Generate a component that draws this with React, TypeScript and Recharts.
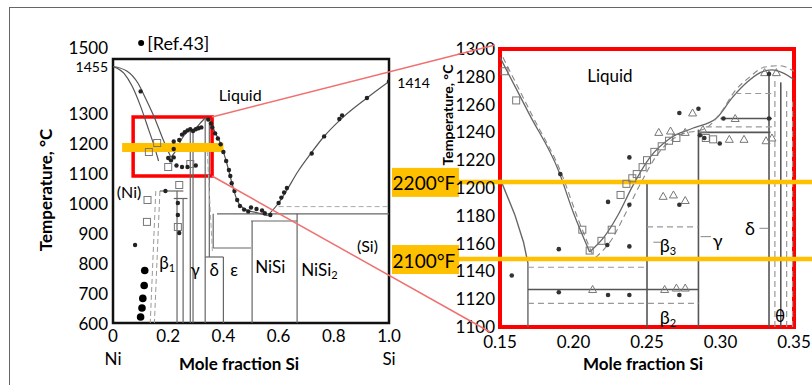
import React from "react";
import { ComposedChart, Line, Scatter, XAxis, YAxis, ReferenceArea, ReferenceLine, ReferenceDot } from "recharts";

const FONT = "Lato, 'Open Sans', sans-serif";

// ---------- left: full Ni-Si diagram ----------
const leftXTicks = [0, 0.2, 0.4, 0.6, 0.8, 1.0];
const leftYTicks = [600, 700, 800, 900, 1000, 1100, 1200, 1300, 1400, 1455];

const leftLiqA = [[0, 1455], [0.05, 1440], [0.09, 1400], [0.12, 1345], [0.15, 1285], [0.18, 1215], [0.21, 1152]];
const leftLiqB = [[0, 1455], [0.04, 1432], [0.07, 1388], [0.1, 1322], [0.13, 1242], [0.15, 1188], [0.165, 1140]];
const leftSolvus = [[0.17, 1040], [0.16, 820], [0.15, 600]];
const leftSolvus2 = [[0.155, 1040], [0.145, 820], [0.135, 600]];
const leftLiqRise = [[0.21, 1152], [0.23, 1178], [0.25, 1215], [0.27, 1238], [0.3, 1250], [0.32, 1270], [0.335, 1285]];
const leftLiqFall = [[0.335, 1285], [0.35, 1275], [0.37, 1235], [0.39, 1198], [0.41, 1140], [0.43, 1070], [0.45, 1008], [0.48, 978], [0.52, 968], [0.56, 958]];
const leftLiqSi = [[0.56, 958], [0.6, 1000], [0.63, 1043], [0.67, 1105], [0.715, 1163], [0.763, 1220], [0.83, 1283], [0.92, 1350], [1.0, 1405]];

const leftSegments = [
  [0.17, 1040, 0.255, 1040], [0.22, 1015, 0.27, 1015],
  [0.232, 1040, 0.232, 600], [0.254, 1015, 0.254, 600],
  [0.28, 1240, 0.28, 600], [0.29, 1240, 0.29, 600],
  [0.334, 1280, 0.334, 600], [0.349, 1270, 0.349, 820],
  [0.334, 820, 0.4, 820], [0.4, 820, 0.4, 600],
  [0.363, 850, 0.5, 850], [0.363, 964, 0.363, 850],
  [0.377, 964, 1.0, 964], [0.5, 940, 0.667, 940],
  [0.504, 940, 0.504, 600], [0.667, 964, 0.667, 600],
];
const leftDashed = [[0.6, 988, 1.0, 988], [0.34, 1200, 0.36, 840]];

const leftDots = [
  [0.345, 1278], [0.355, 1265], [0.36, 1252], [0.37, 1232], [0.38, 1215], [0.39, 1196], [0.4, 1170],
  [0.41, 1140], [0.42, 1110], [0.425, 1090], [0.43, 1066], [0.44, 1040], [0.45, 1010], [0.46, 990],
  [0.475, 978], [0.49, 972], [0.5, 985], [0.52, 980], [0.54, 975], [0.55, 966], [0.57, 960],
  [0.6, 1000], [0.61, 1018], [0.62, 1035], [0.63, 1050], [0.72, 1165], [0.765, 1222], [0.82, 1280],
  [0.83, 1292], [0.92, 1350], [1.0, 1405], [0.1, 1372],
  [0.22, 1180], [0.24, 1210], [0.25, 1228], [0.26, 1236], [0.27, 1242], [0.28, 1246], [0.29, 1240],
  [0.3, 1246], [0.31, 1249], [0.32, 1252], [0.2, 1150], [0.21, 1142], [0.22, 1152], [0.23, 1125],
  [0.25, 1120], [0.27, 1120], [0.3, 1125], [0.235, 960], [0.235, 1000], [0.24, 900], [0.19, 1040],
  [0.08, 860], [0.22, 1205],
];
const leftBigDots = [[0.115, 775], [0.113, 725], [0.108, 682], [0.105, 650], [0.1, 620]];
const leftOpen = [[0.123, 937], [0.125, 1010], [0.13, 1170], [0.16, 1200], [0.2, 1120], [0.24, 1060], [0.235, 920], [0.28, 1130]];

const zoomBox = { x1: 0.073, x2: 0.359, y1: 1090, y2: 1287 };
const leftOrange = { x1: 0.033, x2: 0.4, y: 1185 };

// ---------- right: zoom 0.15-0.35 ----------
const rightXTicks = [0.15, 0.2, 0.25, 0.3, 0.35];
const rightYTicks = [1100, 1120, 1140, 1160, 1180, 1200, 1220, 1240, 1260, 1280, 1300];

const rLiqNi = [[0.15, 1294], [0.17, 1253], [0.19, 1212], [0.2, 1182], [0.211, 1154]];
const rLiqNiDash = [[0.152, 1294], [0.172, 1252], [0.192, 1210], [0.203, 1178], [0.213, 1152]];
const rSolNi = [[0.15, 1207], [0.16, 1181], [0.166, 1161], [0.169, 1146], [0.169, 1100]];
const rLiqRise = [[0.211, 1154], [0.221, 1165], [0.23, 1180], [0.24, 1201], [0.252, 1222], [0.266, 1236], [0.281, 1243], [0.297, 1250], [0.308, 1265], [0.318, 1276], [0.327, 1283], [0.335, 1285], [0.342, 1283], [0.35, 1278]];
const rLiqRiseDash = [[0.215, 1150], [0.226, 1163], [0.236, 1183], [0.246, 1204], [0.257, 1224], [0.272, 1238], [0.29, 1243], [0.3, 1254], [0.31, 1270], [0.32, 1280], [0.33, 1287], [0.34, 1288], [0.35, 1284]];

const rSegments = [
  [0.169, 1127, 0.285, 1127], [0.25, 1100, 0.25, 1205], [0.285, 1100, 0.285, 1242],
  [0.286, 1240, 0.334, 1240], [0.3, 1250, 0.335, 1250], [0.333, 1100, 0.333, 1284],
  [0.341, 1100, 0.341, 1276],
];
const rDashed = [
  [0.169, 1143, 0.25, 1143], [0.169, 1117, 0.285, 1117], [0.25, 1172, 0.285, 1172],
  [0.29, 1244, 0.335, 1244], [0.31, 1268, 0.335, 1268], [0.337, 1100, 0.337, 1280],
  [0.345, 1100, 0.345, 1272], [0.349, 1100, 0.349, 1262],
];

const rDots = [
  [0.191, 1210], [0.238, 1222], [0.2235, 1190], [0.238, 1188], [0.19, 1156], [0.223, 1159],
  [0.238, 1158], [0.158, 1137], [0.19, 1125], [0.2235, 1123], [0.238, 1123], [0.272, 1123],
  [0.272, 1254], [0.285, 1257], [0.2995, 1232], [0.272, 1188], [0.286, 1238], [0.289, 1236],
  [0.302, 1250], [0.333, 1250], [0.333, 1282],
];
const rTriangles = [
  [0.258, 1240], [0.266, 1241], [0.276, 1240], [0.288, 1242], [0.306, 1235], [0.316, 1235],
  [0.331, 1234], [0.335, 1236], [0.281, 1254], [0.31, 1250], [0.261, 1194], [0.268, 1195],
  [0.276, 1191], [0.262, 1127], [0.27, 1128], [0.276, 1128], [0.213, 1127], [0.33, 1283], [0.338, 1283],
];
const rSquares = [
  [0.153, 1284], [0.161, 1263], [0.206, 1170], [0.211, 1155], [0.219, 1162], [0.226, 1170],
  [0.232, 1195], [0.236, 1203], [0.24, 1207], [0.243, 1210], [0.247, 1215], [0.25, 1220],
  [0.255, 1226], [0.26, 1230], [0.265, 1234], [0.27, 1236], [0.29, 1236], [0.295, 1235],
];

const tempLines = [
  { label: "2200°F", c: 1204.4 },
  { label: "2100°F", c: 1148.9 },
];
const orangeSpan = { x1: 0.0765, x2: 0.363 };

const ORANGE = "#FFC000";
const pts = (a: number[][]) => a.map(([x, y]) => ({ x, y }));
const seg = (s: number[]) => [{ x: s[0], y: s[1] }, { x: s[2], y: s[3] }];

const DotShape = (r: number, fill: string) => (p: any) => <circle cx={p.cx} cy={p.cy} r={r} fill={fill} />;
const TriShape = (p: any) => (
  <polygon points={`${p.cx},${p.cy - 4} ${p.cx - 4},${p.cy + 3} ${p.cx + 4},${p.cy + 3}`} fill="none" stroke="#777" strokeWidth={1} />
);
const SqShape = (p: any) => <rect x={p.cx - 3.5} y={p.cy - 3.5} width={7} height={7} fill="none" stroke="#777" strokeWidth={1} />;

function TextAt(text: React.ReactNode, size: number, anchor: "start" | "middle" | "end" = "middle", fill = "#000") {
  return (p: any) => (
    <text x={p.cx} y={p.cy} textAnchor={anchor} dominantBaseline="central" fontSize={size} fill={fill} fontFamily={FONT}>
      {text}
    </text>
  );
}
const Sub = (main: string, sub: string) => (
  <>
    <tspan>{main}</tspan>
    <tspan dy={5} fontSize={11}>{sub}</tspan>
  </>
);

const leftLabels: [number, number, React.ReactNode, number, "start" | "middle" | "end"][] = [
  [0.461, 1363, "Liquid", 16, "middle"],
  [1.03, 1403, "1414", 14, "start"],
  [0.058, 1037, "(Ni)", 16, "middle"],
  [0.196, 803, Sub("β", "1"), 17, "middle"],
  [0.298, 777, "γ", 17, "middle"],
  [0.367, 777, "δ", 17, "middle"],
  [0.439, 780, "ε", 17, "middle"],
  [0.57, 787, "NiSi", 17, "middle"],
  [0.748, 780, Sub("NiSi", "2"), 17, "middle"],
  [0.922, 860, "(Si)", 16, "middle"],
  [0.124, 1533, "[Ref.43]", 18, "start"],
  [-0.018, 1517, "1500", 17, "end"],
];

const rightLabels: [number, number, React.ReactNode, number, "start" | "middle" | "end"][] = [
  [0.2248, 1281, "Liquid", 17, "middle"],
  [0.2643, 1159, Sub("β", "3"), 18, "middle"],
  [0.298, 1162.6, "γ", 18, "middle"],
  [0.32, 1171, "δ", 18, "middle"],
  [0.2643, 1107, Sub("β", "2"), 18, "middle"],
  [0.3405, 1108.6, "θ", 17, "middle"],
];
const rightLeaders = [[0.2543, 1161, 0.2603, 1161], [0.2865, 1165, 0.2935, 1165], [0.3265, 1171, 0.3325, 1171]];

const LeftYTick = (p: any) => (
  <text x={p.x} y={p.y} textAnchor="end" dominantBaseline="central" fontSize={p.payload.value === 1455 ? 14 : 17} fontFamily={FONT} fill="#000">
    {p.payload.value}
  </text>
);

function LeftChart() {
  return (
    <ComposedChart width={440} height={385} margin={{ top: 59, right: 51, bottom: 32, left: 63 }}>
      <XAxis type="number" dataKey="x" domain={[0, 1]} ticks={leftXTicks} allowDataOverflow
        tickFormatter={(v: number) => (v === 0 ? "0" : v.toFixed(1))} axisLine={false} tickLine={false}
        tickSize={0} tickMargin={7} height={30} tick={{ fontSize: 17, fill: "#000", fontFamily: FONT }} />
      <YAxis type="number" dataKey="y" domain={[600, 1480]} ticks={leftYTicks} allowDataOverflow width={50}
        axisLine={false} tickLine={false} tickSize={0} tickMargin={5} tick={LeftYTick} />
      {[leftLiqA, leftLiqB, leftLiqRise, leftLiqFall, leftLiqSi].map((c, i) => (
        <Line key={"lc" + i} data={pts(c)} dataKey="y" type="monotone" stroke="#555" strokeWidth={1.2} dot={false} activeDot={false} isAnimationActive={false} />
      ))}
      {[leftSolvus, leftSolvus2].map((c, i) => (
        <Line key={"ls" + i} data={pts(c)} dataKey="y" type="linear" stroke="#999" strokeWidth={1} strokeDasharray="5 3" dot={false} activeDot={false} isAnimationActive={false} />
      ))}
      {leftSegments.map((s, i) => (
        <Line key={"lg" + i} data={seg(s)} dataKey="y" type="linear" stroke="#666" strokeWidth={1.2} dot={false} activeDot={false} isAnimationActive={false} />
      ))}
      {leftDashed.map((s, i) => (
        <Line key={"ld" + i} data={seg(s)} dataKey="y" type="linear" stroke="#aaa" strokeWidth={1} strokeDasharray="5 3" dot={false} activeDot={false} isAnimationActive={false} />
      ))}
      <Scatter data={pts(leftOpen)} shape={SqShape} isAnimationActive={false} />
      <Scatter data={pts(leftDots)} shape={DotShape(2.2, "#222")} isAnimationActive={false} />
      <Scatter data={pts(leftBigDots)} shape={DotShape(3.8, "#000")} isAnimationActive={false} />
      <ReferenceArea x1={0} x2={1} y1={600} y2={1480} fill="none" stroke="#111" strokeWidth={2.5} ifOverflow="visible" />
      <ReferenceArea {...zoomBox} fill="none" stroke="#ff0000" strokeWidth={3.5} ifOverflow="visible" />
      <ReferenceLine segment={[{ x: leftOrange.x1, y: leftOrange.y }, { x: leftOrange.x2, y: leftOrange.y }]} stroke={ORANGE} strokeWidth={9} ifOverflow="visible" />
      <ReferenceDot x={0.102} y={1533} r={3} fill="#000" stroke="none" ifOverflow="visible" />
      {leftLabels.map(([x, y, t, s, a], i) => (
        <ReferenceDot key={"ll" + i} x={x} y={y} r={1} ifOverflow="visible" shape={TextAt(t, s, a)} />
      ))}
    </ComposedChart>
  );
}

function RightChart() {
  return (
    <ComposedChart width={432} height={385} margin={{ top: 49, right: 18, bottom: 28, left: 60 }}>
      <XAxis type="number" dataKey="x" domain={[0.15, 0.35]} ticks={rightXTicks} allowDataOverflow
        tickFormatter={(v: number) => v.toFixed(2)} axisLine={false} tickLine={false}
        tickSize={0} tickMargin={9} height={30} tick={{ fontSize: 17, fill: "#000", fontFamily: FONT }} />
      <YAxis type="number" dataKey="y" domain={[1100, 1300]} ticks={rightYTicks} allowDataOverflow width={60}
        axisLine={false} tickLine={false} tickSize={0} tickMargin={5} tick={{ fontSize: 17, fill: "#000", fontFamily: FONT }} />
      {[rLiqNi, rLiqRise].map((c, i) => (
        <Line key={"rc" + i} data={pts(c)} dataKey="y" type="monotone" stroke="#666" strokeWidth={1.3} dot={false} activeDot={false} isAnimationActive={false} />
      ))}
      {[rLiqNiDash, rLiqRiseDash].map((c, i) => (
        <Line key={"rd" + i} data={pts(c)} dataKey="y" type="monotone" stroke="#888" strokeWidth={1.1} strokeDasharray="6 4" dot={false} activeDot={false} isAnimationActive={false} />
      ))}
      <Line data={pts(rSolNi)} dataKey="y" type="linear" stroke="#666" strokeWidth={1.4} dot={false} activeDot={false} isAnimationActive={false} />
      {rSegments.map((s, i) => (
        <Line key={"rs" + i} data={seg(s)} dataKey="y" type="linear" stroke="#555" strokeWidth={1.6} dot={false} activeDot={false} isAnimationActive={false} />
      ))}
      {rDashed.map((s, i) => (
        <Line key={"rq" + i} data={seg(s)} dataKey="y" type="linear" stroke="#999" strokeWidth={1.2} strokeDasharray="6 4" dot={false} activeDot={false} isAnimationActive={false} />
      ))}
      {rightLeaders.map((s, i) => (
        <Line key={"rl" + i} data={seg(s)} dataKey="y" type="linear" stroke="#888" strokeWidth={1} dot={false} activeDot={false} isAnimationActive={false} />
      ))}
      <Scatter data={pts(rSquares)} shape={SqShape} isAnimationActive={false} />
      <Scatter data={pts(rTriangles)} shape={TriShape} isAnimationActive={false} />
      <Scatter data={pts(rDots)} shape={DotShape(2.3, "#333")} isAnimationActive={false} />
      <ReferenceArea x1={0.15} x2={0.35} y1={1100} y2={1300} fill="none" stroke="#ff0000" strokeWidth={4} ifOverflow="visible" />
      {tempLines.map((t) => (
        <ReferenceLine key={"ol" + t.label} segment={[{ x: orangeSpan.x1, y: t.c }, { x: orangeSpan.x2, y: t.c }]} stroke={ORANGE} strokeWidth={4.5} ifOverflow="visible" />
      ))}
      {tempLines.map((t) => (
        <ReferenceDot key={"ob" + t.label} x={orangeSpan.x1} y={t.c} r={1} ifOverflow="visible"
          shape={(p: any) => (
            <g>
              <rect x={p.cx} y={p.cy - 14} width={67} height={29} fill={ORANGE} />
              <text x={p.cx + 32} y={p.cy + 1} textAnchor="middle" dominantBaseline="central" fontSize={19} fontFamily={FONT} fill="#000">{t.label}</text>
            </g>
          )} />
      ))}
      {rightLabels.map(([x, y, t, s, a], i) => (
        <ReferenceDot key={"rl" + i} x={x} y={y} r={1} ifOverflow="visible" shape={TextAt(t, s, a)} />
      ))}
    </ComposedChart>
  );
}

export default function App() {
  return (
    <div style={{ position: "absolute", left: 0, top: 0, width: 812, height: 385, background: "#fff", fontFamily: FONT, overflow: "hidden" }}>
      <div style={{ position: "absolute", left: 9, top: 7, right: 0, bottom: 0, borderTop: "1px solid #666", borderLeft: "1px solid #666" }} />
      <div style={{ position: "absolute", left: 0, top: 0 }}>
        <LeftChart />
      </div>
      <div style={{ position: "absolute", left: 380, top: 0 }}>
        <RightChart />
      </div>
      <svg width={812} height={385} style={{ position: "absolute", left: 0, top: 0, pointerEvents: "none" }}>
        <line x1={212} y1={117} x2={495} y2={45} stroke="#f07070" strokeWidth={1.5} />
        <line x1={212} y1={176} x2={490} y2={332} stroke="#f07070" strokeWidth={1.5} />
        <text x={45} y={190} transform="rotate(-90 45 190)" textAnchor="middle" dominantBaseline="central" fontSize={17} fontWeight="bold" fontFamily={FONT}>Temperature, °C</text>
        <text x={447} y={115} transform="rotate(-90 447 115)" textAnchor="middle" dominantBaseline="central" fontSize={14} fontWeight="bold" fontFamily={FONT}>Temperature, °C</text>
        <text x={239} y={363} textAnchor="middle" dominantBaseline="central" fontSize={17} fontWeight="bold" fontFamily={FONT}>Mole fraction Si</text>
        <text x={643} y={363} textAnchor="middle" dominantBaseline="central" fontSize={17} fontWeight="bold" fontFamily={FONT}>Mole fraction Si</text>
        <text x={113} y={358} textAnchor="middle" dominantBaseline="central" fontSize={17} fontFamily={FONT}>Ni</text>
        <text x={389} y={358} textAnchor="middle" dominantBaseline="central" fontSize={17} fontFamily={FONT}>Si</text>
      </svg>
    </div>
  );
}
